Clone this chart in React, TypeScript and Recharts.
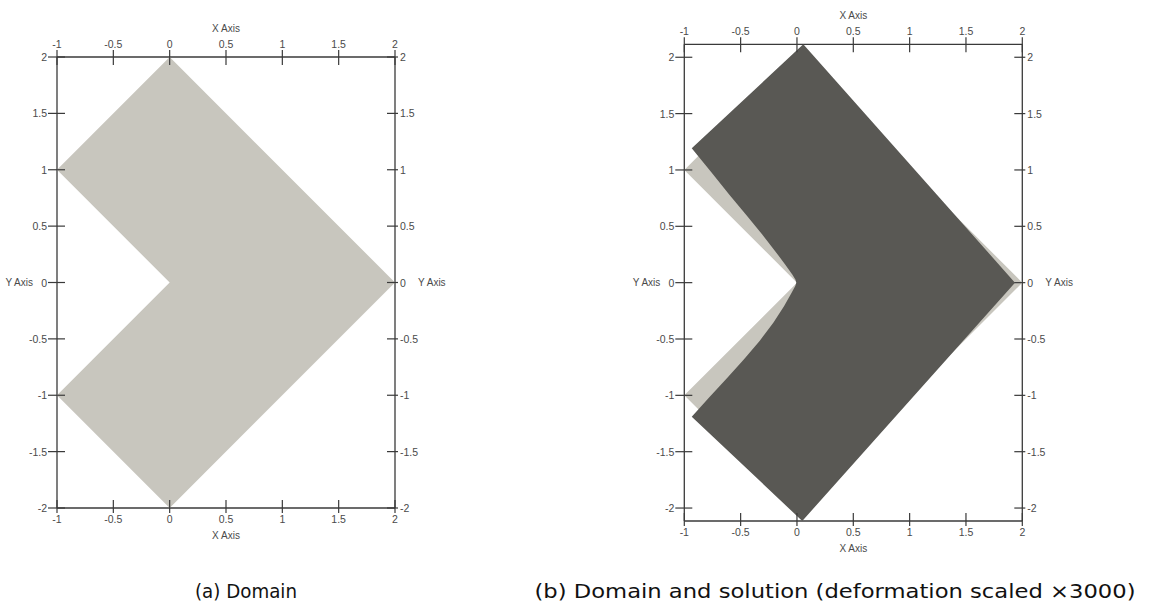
import React from "react";
import { ScatterChart, Scatter, XAxis, YAxis } from "recharts";

const X_TICKS = [-1, -0.5, 0, 0.5, 1, 1.5, 2];
const Y_TICKS = [-2, -1.5, -1, -0.5, 0, 0.5, 1, 1.5, 2];

// undeformed L-shaped domain (vertices, going round)
const domainShape = [
  { x: 0, y: 2 },
  { x: 2, y: 0 },
  { x: 0, y: -2 },
  { x: -1, y: -1 },
  { x: 0, y: 0 },
  { x: -1, y: 1 },
];

// deformed boundary
const deformedShape = [
  { x: 0.056, y: 2.115 },
  { x: 1.935, y: 0 },
  { x: 0.047, y: -2.115 },
  { x: -0.934, y: -1.189 },
  { x: -0.78, y: -1.02 },
  { x: -0.62, y: -0.845 },
  { x: -0.47, y: -0.68 },
  { x: -0.33, y: -0.515 },
  { x: -0.21, y: -0.355 },
  { x: -0.115, y: -0.21 },
  { x: -0.05, y: -0.095 },
  { x: -0.015, y: -0.03 },
  { x: -0.006, y: 0 },
  { x: -0.013, y: 0.025 },
  { x: -0.04, y: 0.07 },
  { x: -0.1, y: 0.155 },
  { x: -0.19, y: 0.275 },
  { x: -0.31, y: 0.43 },
  { x: -0.45, y: 0.6 },
  { x: -0.6, y: 0.78 },
  { x: -0.76, y: 0.98 },
  { x: -0.934, y: 1.193 },
];

const LIGHT = "#c8c6be";
const DARK = "#595854";
const AXIS = "#3a3a3a";
const TEXT = "#4a4a4a";
const FONT = "'Liberation Sans', Arial, sans-serif";

const AX_W = 40;
const AX_H = 30;

type Plot = { l: number; t: number; r: number; b: number };

const noPoint = () => <g />;
const fmt = (v: number) => String(v);

function xTick(axisY: number, side: "top" | "bottom") {
  return (props: any) => {
    const x = props.x;
    const up = side === "top" ? 7 : 8;
    const down = side === "top" ? 8 : 5;
    const ty = side === "top" ? axisY - 13 : axisY + 11;
    return (
      <g>
        <line x1={x} x2={x} y1={axisY - up} y2={axisY + down} stroke={AXIS} strokeWidth={1.2} />
        <text x={x} y={ty} textAnchor="middle" dominantBaseline="central" fontSize={10.5} fontFamily={FONT} fill={TEXT}>
          {fmt(props.payload.value)}
        </text>
      </g>
    );
  };
}

function yTick(axisX: number, side: "left" | "right") {
  return (props: any) => {
    const y = props.y;
    const x1 = side === "left" ? axisX - 9 : axisX - 8;
    const x2 = side === "left" ? axisX + 8 : axisX + 3;
    const tx = side === "left" ? axisX - 10 : axisX + 5;
    return (
      <g>
        <line x1={x1} x2={x2} y1={y} y2={y} stroke={AXIS} strokeWidth={1.2} />
        <text x={tx} y={y} textAnchor={side === "left" ? "end" : "start"} dominantBaseline="central" fontSize={10.5} fontFamily={FONT} fill={TEXT}>
          {fmt(props.payload.value)}
        </text>
      </g>
    );
  };
}

function title(text: string, x: number, y: number, anchor: string) {
  return () => (
    <text x={x} y={y} textAnchor={anchor} dominantBaseline="central" fontSize={10} fontFamily={FONT} fill={TEXT}>
      {text}
    </text>
  );
}

function Panel({ left, width, height, plot, yMax, deformed }: { left: number; width: number; height: number; plot: Plot; yMax: number; deformed: boolean }) {
  const cx = (plot.l + plot.r) / 2;
  const cy = (plot.t + plot.b) / 2;
  const axisStyle = { stroke: AXIS, strokeWidth: 1.3 };
  return (
    <div style={{ position: "absolute", left, top: 0 }}>
      <ScatterChart
        width={width}
        height={height}
        margin={{ left: plot.l - AX_W, right: width - plot.r - AX_W, top: plot.t - AX_H, bottom: height - plot.b - AX_H }}
      >
        <XAxis xAxisId="top" orientation="top" type="number" dataKey="x" domain={[-1, 2]} ticks={X_TICKS} allowDataOverflow height={AX_H}
          axisLine={axisStyle} tickLine={false} tickSize={0} tick={xTick(plot.t, "top")} label={{ content: title("X Axis", cx, plot.t - 29, "middle") }} />
        <XAxis xAxisId="bottom" orientation="bottom" type="number" dataKey="x" domain={[-1, 2]} ticks={X_TICKS} allowDataOverflow height={AX_H}
          axisLine={axisStyle} tickLine={false} tickSize={0} tick={xTick(plot.b, "bottom")} label={{ content: title("X Axis", cx, plot.b + 27, "middle") }} />
        <YAxis yAxisId="left" orientation="left" type="number" dataKey="y" domain={[-yMax, yMax]} ticks={Y_TICKS} allowDataOverflow width={AX_W}
          axisLine={axisStyle} tickLine={false} tickSize={0} tick={yTick(plot.l, "left")} label={{ content: title("Y Axis", plot.l - 24, cy, "end") }} />
        <YAxis yAxisId="right" orientation="right" type="number" dataKey="y" domain={[-yMax, yMax]} ticks={Y_TICKS} allowDataOverflow width={AX_W}
          axisLine={axisStyle} tickLine={false} tickSize={0} tick={yTick(plot.r, "right")} label={{ content: title("Y Axis", plot.r + 23, cy, "start") }} />
        <Scatter data={domainShape} xAxisId="bottom" yAxisId="left" fill={LIGHT} line={{ fill: LIGHT, stroke: "none" }} lineType="joint"
          shape={noPoint} isAnimationActive={false} />
        {deformed && (
          <Scatter data={deformedShape} xAxisId="bottom" yAxisId="left" fill={DARK} line={{ fill: DARK, stroke: "none" }} lineType="joint"
            shape={noPoint} isAnimationActive={false} />
        )}
      </ScatterChart>
    </div>
  );
}

export default function App() {
  return (
    <div style={{ position: "absolute", left: 0, top: 0, width: 1169, height: 607, background: "#fff", overflow: "hidden" }}>
      <Panel left={0} width={470} height={560} plot={{ l: 57, t: 57, r: 395, b: 508 }} yMax={2} deformed={false} />
      <Panel left={600} width={500} height={575} plot={{ l: 84.3, t: 44.3, r: 422.3, b: 521 }} yMax={2.115} deformed={true} />
      <svg width={1169} height={607} style={{ position: "absolute", left: 0, top: 0, pointerEvents: "none" }}>
        <text x={246} y={598} textAnchor="middle" fontSize={20} fontFamily="'DejaVu Sans', sans-serif" fill="#111" textLength={102} lengthAdjust="spacingAndGlyphs">
          (a) Domain
        </text>
        <text x={835} y={598} textAnchor="middle" fontSize={20} fontFamily="'DejaVu Sans', sans-serif" fill="#111" textLength={601} lengthAdjust="spacingAndGlyphs">
          (b) Domain and solution (deformation scaled ×3000)
        </text>
      </svg>
    </div>
  );
}
